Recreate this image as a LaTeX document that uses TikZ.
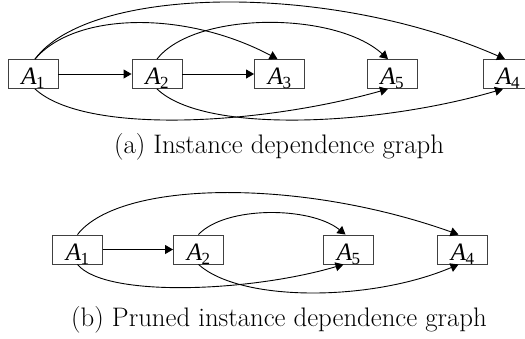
\documentclass[tikz,border=0pt]{standalone}
\usepackage{fontspec}
\newfontfamily\tms{Liberation Serif}[ItalicFont={Liberation Serif Italic}]
\usetikzlibrary{arrows.meta}
% activity label: italic A with an upright subscript, set low in its box
\newcommand{\Aname}[1]{\smash{\raisebox{-10.5pt}{\tms\fontsize{25}{25}\selectfont\itshape A\upshape\kern-0.5pt\raisebox{-4pt}{\fontsize{17}{17}\selectfont #1}}}}
\begin{document}
\begin{tikzpicture}[x=1pt,y=-1pt,
  box/.style={draw=black!75, line width=0.9pt, minimum width=50pt, minimum height=29pt, inner sep=0pt},
  edge/.style={line width=0.9pt, -{Triangle[length=8pt,width=9pt]}},
  captext/.style={anchor=base, inner sep=0pt, font=\fontsize{26.8}{32}\selectfont}]
\useasboundingbox (0,0) rectangle (525,338);

% (a) instance dependence graph
\node[box] (a1) at (33,74)    {\Aname{1}};
\node[box] (a2) at (157,74)   {\Aname{2}};
\node[box] (a3) at (279.5,74) {\Aname{3}};
\node[box] (a5) at (392,74)   {\Aname{5}};
\node[box] (a4) at (508,74)   {\Aname{4}};

\draw[edge] (a1) -- (a2);
\draw[edge] (a2) -- (a3);
\draw[edge] ([xshift=2pt]a1.north) .. controls (75,12) and (185,10) .. ([xshift=-2pt]a3.north);
\draw[edge] ([xshift=2pt]a1.north) .. controls (90,-15) and (330,-18) .. ([xshift=-3pt]a4.north);
\draw[edge] (a2.north) .. controls (195,11) and (335,11) .. ([xshift=-4pt]a5.north);
\draw[edge] ([xshift=2pt]a1.south) .. controls (85,135) and (260,125) .. ([xshift=-4pt]a5.south);
\draw[edge] (a2.south) .. controls (205,135) and (380,125) .. ([xshift=-5pt]a4.south);

\node[captext] (capa) at (279,153.3) {(a) Instance dependence graph};

% (b) pruned instance dependence graph
\node[box] (b1) at (77.5,249.5)  {\Aname{1}};
\node[box] (b2) at (198.5,249.5) {\Aname{2}};
\node[box] (b5) at (348.5,249.5) {\Aname{5}};
\node[box] (b4) at (462.5,249.5) {\Aname{4}};

\draw[edge] (b1) -- (b2);
\draw[edge] (b1.north) .. controls (120,180) and (300,178) .. ([xshift=-4pt]b4.north);
\draw[edge] (b2.north) .. controls (225,206) and (310,206) .. ([xshift=-3pt]b5.north);
\draw[edge] (b1.south) .. controls (105,298) and (250,292) .. ([xshift=-5pt]b5.south);
\draw[edge] (b2.south) .. controls (240,302) and (370,302) .. ([xshift=-4pt]b4.south);

\node[captext] (capb) at (279,326.7) {(b) Pruned instance dependence graph};
\end{tikzpicture}
\end{document}
